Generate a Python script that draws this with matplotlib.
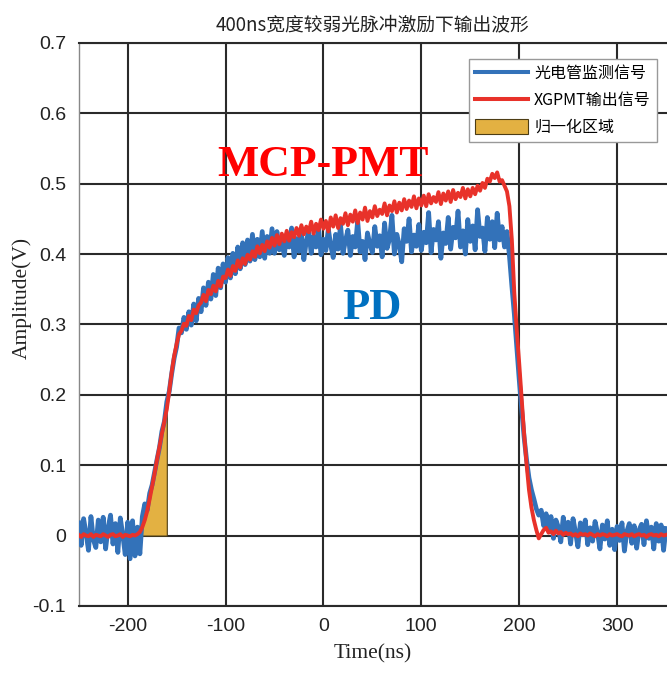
import numpy as np
import matplotlib
matplotlib.use("Agg")
import matplotlib.pyplot as plt
from matplotlib.patches import Patch
from matplotlib.lines import Line2D

plt.rcParams['font.family'] = ['Noto Sans CJK SC', 'DejaVu Sans']
plt.rcParams['axes.unicode_minus'] = False

# ── 数据 ──────────────────────────────────────
# 时间轴，步长 2.5 ns，-250 ~ 350 ns
t_ns = np.arange(-250, 350.01, 2.5)

# 光电管监测信号 (PD)
v_pd = [
    0.018, -0.014, 0.024, 0.003, -0.021, 0.027, -0.006, -0.017, 0.022, -0.009,
    0.026, -0.019, 0.011, 0.029, -0.012, 0.017, -0.024, 0.025, 0.001, -0.027,
    0.019, -0.033, 0.021, -0.029, 0.012, -0.026, 0.027, 0.045, 0.036, 0.060,
    0.072, 0.090, 0.108, 0.125, 0.148, 0.162, 0.190, 0.205, 0.230, 0.252,
    0.268, 0.295, 0.288, 0.310, 0.293, 0.318, 0.299, 0.329, 0.305, 0.337,
    0.318, 0.352, 0.327, 0.360, 0.336, 0.371, 0.341, 0.380, 0.352, 0.386,
    0.360, 0.395, 0.366, 0.401, 0.372, 0.410, 0.379, 0.416, 0.385, 0.420,
    0.390, 0.428, 0.392, 0.421, 0.396, 0.432, 0.394, 0.425, 0.401, 0.436,
    0.401, 0.432, 0.406, 0.419, 0.398, 0.426, 0.410, 0.437, 0.396, 0.422,
    0.404, 0.429, 0.392, 0.418, 0.433, 0.401, 0.425, 0.410, 0.438, 0.399,
    0.421, 0.405, 0.436, 0.412, 0.395, 0.428, 0.407, 0.441, 0.401, 0.419,
    0.434, 0.398, 0.425, 0.410, 0.447, 0.403, 0.418, 0.392, 0.430, 0.414,
    0.402, 0.439, 0.411, 0.426, 0.396, 0.444, 0.408, 0.421, 0.455, 0.400,
    0.428, 0.413, 0.389, 0.436, 0.418, 0.450, 0.403, 0.427, 0.411, 0.442,
    0.405, 0.431, 0.416, 0.459, 0.402, 0.435, 0.420, 0.446, 0.394, 0.430,
    0.415, 0.452, 0.407, 0.438, 0.423, 0.461, 0.410, 0.433, 0.400, 0.449,
    0.418, 0.440, 0.406, 0.463, 0.425, 0.437, 0.404, 0.452, 0.421, 0.446,
    0.409, 0.458, 0.420, 0.439, 0.410, 0.432, 0.398, 0.355, 0.315, 0.268,
    0.222, 0.180, 0.140, 0.108, 0.082, 0.065, 0.052, 0.038, 0.029, 0.036,
    0.014, 0.031, 0.008, 0.027, -0.004, 0.022, 0.012, -0.009, 0.026, 0.003,
    0.019, -0.012, 0.024, 0.005, -0.016, 0.018, 0.001, 0.022, -0.013, 0.011,
    -0.008, 0.020, 0.004, -0.019, 0.015, -0.005, 0.021, -0.014, 0.009, -0.020,
    0.013, -0.007, 0.018, -0.022, 0.006, 0.017, -0.011, 0.014, -0.018, 0.008,
    0.016, -0.013, 0.021, -0.004, 0.012, -0.019, 0.017, -0.008, 0.015, -0.021,
    0.010,
]

# XGPMT 输出信号 (MCP-PMT)
v_pmt = [
    0.001, -0.002, 0.002, 0.000, -0.001, 0.002, -0.002, 0.001, 0.000, -0.001,
    0.002, 0.000, -0.002, 0.001, 0.002, -0.001, 0.000, 0.002, -0.002, 0.001,
    0.000, -0.001, 0.001, 0.000, 0.002, 0.005, 0.012, 0.022, 0.035, 0.052,
    0.070, 0.088, 0.108, 0.126, 0.145, 0.162, 0.180, 0.205, 0.232, 0.255,
    0.272, 0.286, 0.291, 0.301, 0.298, 0.312, 0.306, 0.321, 0.316, 0.327,
    0.331, 0.342, 0.333, 0.349, 0.343, 0.355, 0.347, 0.362, 0.354, 0.368,
    0.366, 0.378, 0.369, 0.383, 0.376, 0.391, 0.381, 0.394, 0.386, 0.399,
    0.392, 0.404, 0.396, 0.411, 0.401, 0.413, 0.404, 0.418, 0.409, 0.423,
    0.412, 0.427, 0.414, 0.429, 0.418, 0.433, 0.419, 0.431, 0.424, 0.437,
    0.426, 0.441, 0.428, 0.439, 0.431, 0.446, 0.429, 0.443, 0.434, 0.449,
    0.436, 0.447, 0.432, 0.452, 0.439, 0.455, 0.437, 0.451, 0.443, 0.458,
    0.441, 0.456, 0.446, 0.462, 0.444, 0.459, 0.449, 0.466, 0.447, 0.461,
    0.452, 0.468, 0.454, 0.463, 0.457, 0.472, 0.455, 0.469, 0.461, 0.475,
    0.459, 0.473, 0.462, 0.478, 0.464, 0.476, 0.467, 0.482, 0.465, 0.479,
    0.469, 0.483, 0.468, 0.485, 0.472, 0.481, 0.474, 0.488, 0.471, 0.486,
    0.476, 0.489, 0.474, 0.491, 0.478, 0.487, 0.481, 0.494, 0.479, 0.492,
    0.482, 0.494, 0.485, 0.497, 0.490, 0.501, 0.494, 0.507, 0.503, 0.514,
    0.508, 0.516, 0.503, 0.505, 0.497, 0.489, 0.468, 0.420, 0.345, 0.292,
    0.245, 0.195, 0.145, 0.102, 0.065, 0.040, 0.022, 0.008, -0.004, 0.002,
    0.008, 0.011, 0.004, 0.006, 0.002, 0.007, 0.003, 0.005, 0.001, 0.004,
    0.002, 0.003, 0.000, 0.002, -0.001, 0.003, 0.001, 0.002, 0.000, 0.003,
    0.001, -0.001, 0.002, 0.000, 0.002, 0.001, -0.001, 0.002, 0.000, 0.001,
    0.002, 0.000, -0.001, 0.002, 0.001, 0.000, 0.002, -0.001, 0.001, 0.002,
    0.000, 0.001, -0.002, 0.001, 0.002, 0.000, 0.001, -0.001, 0.002, 0.000,
    0.001,
]

# 归一化区域
norm_start, norm_end = -190, -160

x_ticks = [-200, -100, 0, 100, 200, 300]
y_ticks = [-0.1, 0, 0.1, 0.2, 0.3, 0.4, 0.5, 0.6, 0.7]
y_ticklabels = ['-0.1', '0', '0.1', '0.2', '0.3', '0.4', '0.5', '0.6', '0.7']

C_PD = '#3372B9'
C_PMT = '#E8322A'
C_FILL = '#E3B142'
C_GRID = '#2a2a2a'

# ── 作图 ──────────────────────────────────────
fig = plt.figure(figsize=(6.67, 6.77), dpi=100)
ax = fig.add_axes([0.118, 0.105, 0.882, 0.8316])

v_pmt = np.asarray(v_pmt)
m = (t_ns >= norm_start) & (t_ns <= norm_end)
ax.fill_between(t_ns[m], 0, v_pmt[m], color=C_FILL, edgecolor='#4d3d14',
                linewidth=0.8, zorder=2)
ax.plot(t_ns, v_pd, color=C_PD, linewidth=3.4, zorder=3)
ax.plot(t_ns, v_pmt, color=C_PMT, linewidth=2.8, zorder=4)

ax.set_xlim(-250, 351)
ax.set_ylim(-0.1, 0.7)
ax.set_xticks(x_ticks)
ax.set_yticks(y_ticks)
ax.set_yticklabels(y_ticklabels)
ax.grid(True, color=C_GRID, linewidth=1.5)
ax.set_axisbelow(True)
ax.tick_params(length=0, pad=9)
for lab in ax.get_xticklabels() + ax.get_yticklabels():
    lab.set_family('Liberation Sans')
    lab.set_fontsize(14)
    lab.set_color('#222222')

ax.spines['right'].set_visible(False)
ax.spines['left'].set_color('#888888')
ax.spines['left'].set_linewidth(1.0)
for s in ('top', 'bottom'):
    ax.spines[s].set_color(C_GRID)
    ax.spines[s].set_linewidth(1.5)

ax.set_xlabel('Time(ns)', family='Liberation Serif', fontsize=15.5,
              color='#222222', labelpad=6)
ax.set_ylabel('Amplitude(V)', family='Liberation Serif', fontsize=15.5,
              color='#222222')
ax.yaxis.set_label_coords(-0.08, 0.547)
ax.set_title('400ns宽度较弱光脉冲激励下输出波形', fontsize=13.5,
             color='#222222', pad=9)

ax.text(0, 0.526, 'MCP-PMT', color='#FF0000', family='Liberation Serif',
        fontweight='bold', fontsize=31.5, ha='center', va='center', zorder=5)
ax.text(50, 0.324, 'PD', color='#0070C0', family='Liberation Serif',
        fontweight='bold', fontsize=32, ha='center', va='center', zorder=5)

handles = [
    Line2D([], [], color=C_PD, linewidth=2.9),
    Line2D([], [], color=C_PMT, linewidth=2.9),
    Patch(facecolor=C_FILL, edgecolor='#4d3d14', linewidth=0.8),
]
labels = ['光电管监测信号', 'XGPMT输出信号', '归一化区域']
leg = ax.legend(handles, labels, loc='upper left',
                bbox_to_anchor=(0.663, 0.9716), fontsize=11.5,
                fancybox=False, framealpha=1, edgecolor='#999999',
                handlelength=3.3, handleheight=1.1, handletextpad=0.4,
                labelspacing=0.6, borderpad=0.4, borderaxespad=0)
leg.get_frame().set_linewidth(1.0)
leg.set_zorder(6)

fig.savefig('out.png', dpi=100)
